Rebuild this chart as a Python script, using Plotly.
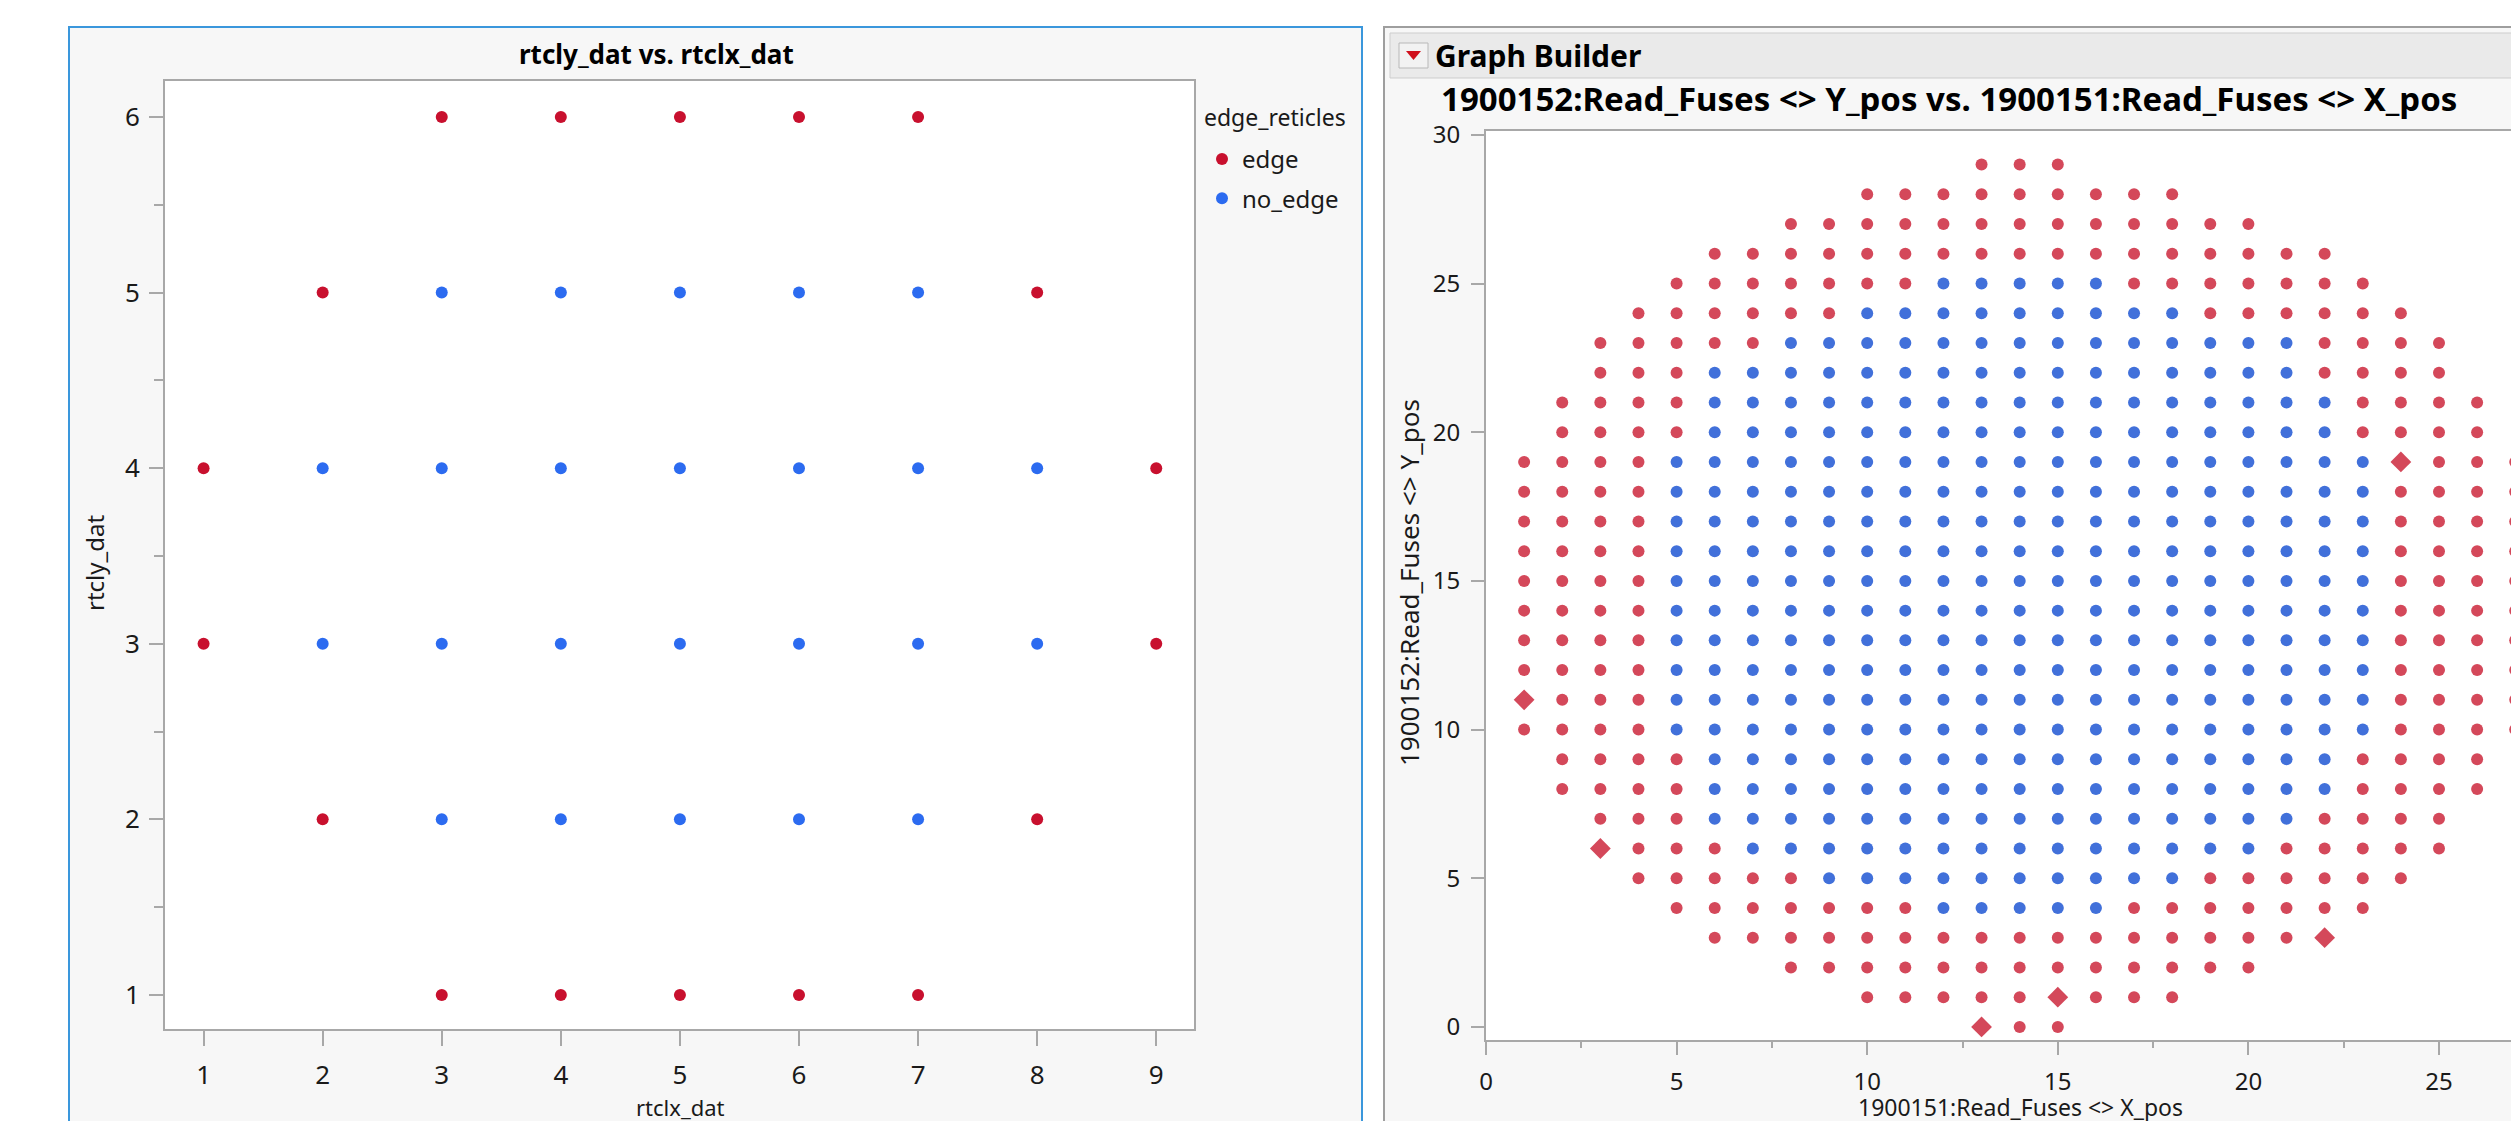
import plotly.graph_objects as go

# ---------------- data ----------------
# Left panel: reticle map (rows = rtcly_dat, cols = rtclx_dat); E = edge, N = no_edge
left_x_values = [1, 2, 3, 4, 5, 6, 7, 8, 9]
left_y_values = [6, 5, 4, 3, 2, 1]
left_map = [
    "..EEEEE..",
    ".ENNNNNE.",
    "ENNNNNNNE",
    "ENNNNNNNE",
    ".ENNNNNE.",
    "..EEEEE..",
]
left_x_ticks = [1, 2, 3, 4, 5, 6, 7, 8, 9]
left_y_ticks = [1, 2, 3, 4, 5, 6]

# Right panel: wafer die map (X_pos 0..27, Y_pos 29..0)
# R = edge (circle), B = no_edge (circle), D = edge (diamond marker)
wafer_x_values = [0, 1, 2, 3, 4, 5, 6, 7, 8, 9, 10, 11, 12, 13, 14, 15, 16, 17, 18, 19, 20, 21, 22, 23, 24, 25, 26, 27]
wafer_y_values = [29, 28, 27, 26, 25, 24, 23, 22, 21, 20, 19, 18, 17, 16, 15, 14, 13, 12, 11, 10,
                  9, 8, 7, 6, 5, 4, 3, 2, 1, 0]
wafer_map = [
    ".............RRR............",
    "..........RRRRRRRRR.........",
    "........RRRRRRRRRRRRR.......",
    "......RRRRRRRRRRRRRRRRR.....",
    ".....RRRRRRRBBBBBRRRRRRR....",
    "....RRRRRRBBBBBBBBBRRRRRR...",
    "...RRRRRBBBBBBBBBBBBBBRRRR..",
    "...RRRBBBBBBBBBBBBBBBBRRRR..",
    "..RRRRBBBBBBBBBBBBBBBBBRRRR.",
    "..RRRRBBBBBBBBBBBBBBBBBRRRR.",
    ".RRRRBBBBBBBBBBBBBBBBBBBDRRR",
    ".RRRRBBBBBBBBBBBBBBBBBBBRRRR",
    ".RRRRBBBBBBBBBBBBBBBBBBBRRRR",
    ".RRRRBBBBBBBBBBBBBBBBBBBRRRR",
    ".RRRRBBBBBBBBBBBBBBBBBBBRRRR",
    ".RRRRBBBBBBBBBBBBBBBBBBBRRRR",
    ".RRRRBBBBBBBBBBBBBBBBBBBRRRR",
    ".RRRRBBBBBBBBBBBBBBBBBBBRRRR",
    ".DRRRBBBBBBBBBBBBBBBBBBBRRRR",
    ".RRRRBBBBBBBBBBBBBBBBBBBRRRR",
    "..RRRRBBBBBBBBBBBBBBBBBRRRR.",
    "..RRRRBBBBBBBBBBBBBBBBBRRRR.",
    "...RRRBBBBBBBBBBBBBBBBRRRR..",
    "...DRRRBBBBBBBBBBBBBBRRRRR..",
    "....RRRRRBBBBBBBBBBRRRRRR...",
    ".....RRRRRRRBBBBBRRRRRRR....",
    "......RRRRRRRRRRRRRRRRD.....",
    "........RRRRRRRRRRRRR.......",
    "..........RRRRRDRRR.........",
    ".............DRR............",
]
right_x_ticks = [0, 5, 10, 15, 20, 25]
right_y_ticks = [0, 5, 10, 15, 20, 25, 30]

# ---------------- styling ----------------
W, H = 2511, 1121


def fx(p):
    return p / W


def fy(p):
    return 1 - p / H


FONT = "Noto Sans, Open Sans, DejaVu Sans, sans-serif"
L_RED, L_BLUE = "#C8102E", "#2C6BF0"
R_RED, R_BLUE = "#D4485A", "#4170DA"
AXIS_GRAY = "#A8A8A8"
TXT = "#1A1A1A"


def cells(grid, xs, ys, code):
    ox, oy = [], []
    for row, yv in zip(grid, ys):
        for ch, xv in zip(row, xs):
            if ch == code:
                ox.append(xv)
                oy.append(yv)
    return ox, oy


fig = go.Figure()

ex, ey = cells(left_map, left_x_values, left_y_values, "E")
nx, ny = cells(left_map, left_x_values, left_y_values, "N")
fig.add_trace(go.Scatter(x=ex, y=ey, mode="markers", name="edge",
                         marker=dict(color=L_RED, size=12, line=dict(width=0)),
                         xaxis="x", yaxis="y", legendgroup="a"))
fig.add_trace(go.Scatter(x=nx, y=ny, mode="markers", name="no_edge",
                         marker=dict(color=L_BLUE, size=12, line=dict(width=0)),
                         xaxis="x", yaxis="y", legendgroup="b"))

rx, ry = cells(wafer_map, wafer_x_values, wafer_y_values, "R")
bx, by = cells(wafer_map, wafer_x_values, wafer_y_values, "B")
dx, dy = cells(wafer_map, wafer_x_values, wafer_y_values, "D")
fig.add_trace(go.Scatter(x=rx, y=ry, mode="markers", showlegend=False,
                         marker=dict(color=R_RED, size=12, line=dict(width=0)),
                         xaxis="x2", yaxis="y2"))
fig.add_trace(go.Scatter(x=bx, y=by, mode="markers", showlegend=False,
                         marker=dict(color=R_BLUE, size=12, line=dict(width=0)),
                         xaxis="x2", yaxis="y2"))
fig.add_trace(go.Scatter(x=dx, y=dy, mode="markers", showlegend=False,
                         marker=dict(color=R_RED, size=16, symbol="diamond", line=dict(width=0)),
                         xaxis="x2", yaxis="y2"))

shapes = [
    # left panel frame
    dict(type="rect", xref="paper", yref="paper", x0=fx(69), x1=fx(1362), y0=fy(27), y1=fy(1140),
         fillcolor="#F7F7F7", line=dict(color="#3A97DC", width=2), layer="below"),
    # right panel frame
    dict(type="rect", xref="paper", yref="paper", x0=fx(1384), x1=fx(2540), y0=fy(27), y1=fy(1140),
         fillcolor="#F7F7F7", line=dict(color="#9E9E9E", width=2), layer="below"),
    # header bar
    dict(type="rect", xref="paper", yref="paper", x0=fx(1390), x1=fx(2540), y0=fy(33), y1=fy(78),
         fillcolor="#EAEAEA", line=dict(color="#CDCDCD", width=1), layer="below"),
    # red triangle button
    dict(type="rect", xref="paper", yref="paper", x0=fx(1399), x1=fx(1428), y0=fy(43), y1=fy(68),
         fillcolor="#F2F2F2", line=dict(color="#B8B8B8", width=1), layer="below"),
    dict(type="path", xref="paper", yref="paper",
         path=f"M {fx(1406)} {fy(51)} L {fx(1421)} {fy(51)} L {fx(1413.5)} {fy(60)} Z",
         fillcolor="#D0101C", line=dict(width=0), layer="below"),
    # plot area backgrounds
    dict(type="rect", xref="paper", yref="paper", x0=fx(165), x1=fx(1194), y0=fy(81), y1=fy(1029),
         fillcolor="white", line=dict(width=0), layer="below"),
    dict(type="rect", xref="paper", yref="paper", x0=fx(1486), x1=fx(2540), y0=fy(131), y1=fy(1040),
         fillcolor="white", line=dict(width=0), layer="below"),
]

annotations = [
    dict(text="<b>rtcly_dat vs. rtclx_dat</b>", x=fx(656), y=fy(54), xref="paper", yref="paper",
         showarrow=False, xanchor="center", yanchor="middle", font=dict(size=26, color="#000", family=FONT)),
    dict(text="rtclx_dat", x=fx(680), y=fy(1107), xref="paper", yref="paper",
         showarrow=False, xanchor="center", yanchor="middle", font=dict(size=22, color=TXT, family=FONT)),
    dict(text="rtcly_dat", x=fx(94), y=fy(563), xref="paper", yref="paper", textangle=-90,
         showarrow=False, xanchor="center", yanchor="middle", font=dict(size=24, color=TXT, family=FONT)),
    dict(text="edge_reticles", x=fx(1202), y=fy(117), xref="paper", yref="paper",
         showarrow=False, xanchor="left", yanchor="middle", font=dict(size=23, color=TXT, family=FONT)),
    dict(text="<b>Graph Builder</b>", x=fx(1433), y=fy(55), xref="paper", yref="paper",
         showarrow=False, xanchor="left", yanchor="middle", font=dict(size=30, color="#000", family=FONT)),
    dict(text="<b>1900152:Read_Fuses <> Y_pos vs. 1900151:Read_Fuses <> X_pos</b>",
         x=fx(1949), y=fy(98), xref="paper", yref="paper",
         showarrow=False, xanchor="center", yanchor="middle", font=dict(size=33, color="#000", family=FONT)),
    dict(text="1900151:Read_Fuses <> X_pos", x=fx(2020), y=fy(1107), xref="paper", yref="paper",
         showarrow=False, xanchor="center", yanchor="middle", font=dict(size=23, color=TXT, family=FONT)),
    dict(text="1900152:Read_Fuses <> Y_pos", x=fx(1409), y=fy(583), xref="paper", yref="paper",
         textangle=-90, showarrow=False, xanchor="center", yanchor="middle",
         font=dict(size=26, color=TXT, family=FONT)),
]

common_axis = dict(showgrid=False, zeroline=False, showline=True, linecolor=AXIS_GRAY, linewidth=2,
                   ticks="outside", tickcolor=AXIS_GRAY, tickwidth=2, fixedrange=True, automargin=False)

fig.update_layout(
    width=W, height=H, margin=dict(l=0, r=0, t=0, b=0, pad=0, autoexpand=False),
    paper_bgcolor="white", plot_bgcolor="white",
    font=dict(family=FONT, color=TXT),
    shapes=shapes, annotations=annotations,
    showlegend=True,
    legend=dict(x=fx(1202), y=fy(137), xanchor="left", yanchor="top",
                font=dict(size=24, color=TXT, family=FONT), bgcolor="rgba(0,0,0,0)",
                tracegroupgap=5, itemwidth=30),
    xaxis=dict(domain=[fx(165), fx(1194)], range=[0.676, 9.317], tickvals=left_x_ticks,
               ticklen=15, ticklabelstandoff=7, tickfont=dict(size=26, color=TXT),
               mirror=True, anchor="y", **common_axis),
    yaxis=dict(domain=[fy(1029), fy(81)], range=[0.806, 6.205], tickvals=left_y_ticks,
               ticklen=14, ticklabelstandoff=4, tickfont=dict(size=26, color=TXT),
               minor=dict(ticks="outside", ticklen=9, dtick=0.5, tick0=0.5, tickcolor=AXIS_GRAY, tickwidth=2),
               mirror=True, anchor="x", **common_axis),
    xaxis2=dict(domain=[fx(1486), 1.0], range=[0, (2511 - 1486) / 38.12], tickvals=right_x_ticks,
                ticklen=13, ticklabelstandoff=6, tickfont=dict(size=24, color=TXT),
                minor=dict(ticks="outside", ticklen=6, dtick=2.5, tick0=0, tickcolor=AXIS_GRAY, tickwidth=2),
                mirror=True, anchor="y2", **common_axis),
    yaxis2=dict(domain=[fy(1040), fy(131)], range=[-0.44, 30.13], tickvals=right_y_ticks,
                ticklen=13, ticklabelstandoff=6, tickfont=dict(size=24, color=TXT),
                mirror=False, anchor="x2", **common_axis),
)

fig.write_html("out.html", config={"displayModeBar": False},
               post_script="document.body.style.margin='0px';")
